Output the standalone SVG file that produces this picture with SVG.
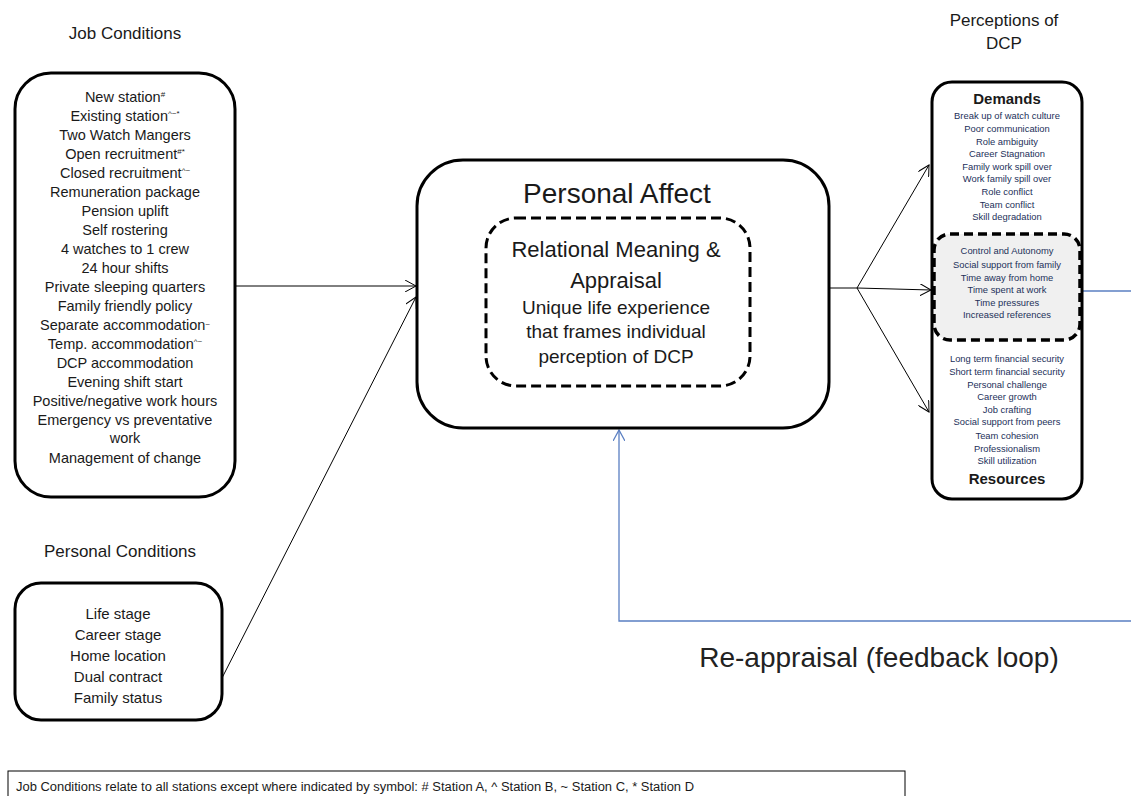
<svg xmlns="http://www.w3.org/2000/svg" width="1131" height="796" viewBox="0 0 1131 796">
<style>
text{font-family:"Liberation Sans",Arial,sans-serif;text-anchor:middle;fill:#1a1a1a}
.box{fill:#fff;stroke:#000;stroke-width:3}
.dash{fill:none;stroke:#000;stroke-width:3;stroke-dasharray:10,5}
.jc{font-size:14.5px}
.pc{font-size:15px}
.title{font-size:17px}
.sm{font-size:9.4px;fill:#23305a}
.hd{font-size:15px;font-weight:bold}
.sup{font-size:8px}
.con{fill:none;stroke:#000;stroke-width:1}
.blue{fill:none;stroke:#5a7fc2;stroke-width:1.3}
</style>
<defs>
<marker id="arr" viewBox="0 0 12 12" refX="11" refY="6" markerWidth="12" markerHeight="12" markerUnits="userSpaceOnUse" orient="auto">
<path d="M0,0 L11,6 L0,12" fill="none" stroke="#000" stroke-width="1"/>
</marker>
<marker id="arrb" viewBox="0 0 12 12" refX="11" refY="6" markerWidth="12" markerHeight="12" markerUnits="userSpaceOnUse" orient="auto">
<path d="M0,0 L11,6 L0,12" fill="none" stroke="#5a7fc2" stroke-width="1.3"/>
</marker>
</defs>
<rect width="1131" height="796" fill="#fff"/>

<g id="connectors">
<line class="con" x1="235" y1="286" x2="416" y2="286" marker-end="url(#arr)"/>
<line class="con" x1="222" y1="678" x2="416" y2="297" marker-end="url(#arr)"/>
<polyline class="con" points="829,288 857,288"/>
<line class="con" x1="857" y1="288" x2="929" y2="165" marker-end="url(#arr)"/>
<line class="con" x1="857" y1="288" x2="931" y2="290" marker-end="url(#arr)"/>
<line class="con" x1="857" y1="288" x2="929" y2="412" marker-end="url(#arr)"/>
<line class="blue" x1="1082" y1="291" x2="1131" y2="291"/>
<polyline class="blue" points="1131,621 619,621 619,430" marker-end="url(#arrb)"/>
</g>

<g id="job-conditions">
<text class="title" x="125" y="39">Job Conditions</text>
<rect class="box" x="15" y="73" width="220" height="424" rx="36"/>
<text class="jc" x="125" y="102">New station<tspan class="sup" dy="-5">#</tspan></text>
<text class="jc" x="125" y="121">Existing station<tspan class="sup" dy="-5">^~*</tspan></text>
<text class="jc" x="125" y="140">Two Watch Mangers</text>
<text class="jc" x="125" y="159">Open recruitment<tspan class="sup" dy="-5">#*</tspan></text>
<text class="jc" x="125" y="178">Closed recruitment<tspan class="sup" dy="-5">^~</tspan></text>
<text class="jc" x="125" y="197">Remuneration package</text>
<text class="jc" x="125" y="216">Pension uplift</text>
<text class="jc" x="125" y="235">Self rostering</text>
<text class="jc" x="125" y="254">4 watches to 1 crew</text>
<text class="jc" x="125" y="273">24 hour shifts</text>
<text class="jc" x="125" y="292">Private sleeping quarters</text>
<text class="jc" x="125" y="311">Family friendly policy</text>
<text class="jc" x="125" y="330">Separate accommodation<tspan class="sup" dy="-3">~</tspan></text>
<text class="jc" x="125" y="349">Temp. accommodation<tspan class="sup" dy="-5">^~</tspan></text>
<text class="jc" x="125" y="368">DCP accommodation</text>
<text class="jc" x="125" y="387">Evening shift start</text>
<text class="jc" x="125" y="406">Positive/negative work hours</text>
<text class="jc" x="125" y="425">Emergency vs preventative</text>
<text class="jc" x="125" y="443">work</text>
<text class="jc" x="125" y="463">Management of change</text>
</g>

<g id="personal-conditions">
<text class="title" x="120" y="557">Personal Conditions</text>
<rect class="box" x="15" y="583" width="207" height="137" rx="26"/>
<text class="pc" x="118" y="619">Life stage</text>
<text class="pc" x="118" y="640">Career stage</text>
<text class="pc" x="118" y="661">Home  location</text>
<text class="pc" x="118" y="682">Dual contract</text>
<text class="pc" x="118" y="703">Family status</text>
</g>

<g id="personal-affect">
<rect class="box" x="417" y="160" width="412" height="268" rx="46"/>
<text x="617" y="203" style="font-size:28px">Personal Affect</text>
<rect class="dash" x="486" y="218" width="264" height="168" rx="30"/>
<text x="616" y="257" style="font-size:22px">Relational Meaning &amp;</text>
<text x="616" y="288" style="font-size:22px">Appraisal</text>
<text x="616" y="314" style="font-size:19px">Unique life experience</text>
<text x="616" y="338" style="font-size:19px">that frames individual</text>
<text x="616" y="363" style="font-size:19px">perception of DCP</text>
</g>

<g id="perceptions">
<text class="title" x="1004" y="26">Perceptions of</text>
<text class="title" x="1004" y="49">DCP</text>
<rect class="box" x="932" y="82" width="150" height="417" rx="20"/>
<text class="hd" x="1007" y="104">Demands</text>
<text class="sm" x="1007" y="119">Break up of watch culture</text>
<text class="sm" x="1007" y="132">Poor communication</text>
<text class="sm" x="1007" y="145">Role ambiguity</text>
<text class="sm" x="1007" y="157">Career Stagnation</text>
<text class="sm" x="1007" y="170">Family work spill over</text>
<text class="sm" x="1007" y="182">Work family spill over</text>
<text class="sm" x="1007" y="195">Role conflict</text>
<text class="sm" x="1007" y="208">Team conflict</text>
<text class="sm" x="1007" y="220">Skill degradation</text>
<rect x="934" y="234" width="146" height="106" rx="16" fill="#f0f0f0" stroke="#000" stroke-width="3.5" stroke-dasharray="9,5"/>
<text class="sm" x="1007" y="254">Control and Autonomy</text>
<text class="sm" x="1007" y="268">Social support from family</text>
<text class="sm" x="1007" y="281">Time away from home</text>
<text class="sm" x="1007" y="293">Time spent at work</text>
<text class="sm" x="1007" y="306">Time pressures</text>
<text class="sm" x="1007" y="318">Increased references</text>
<text class="sm" x="1007" y="362">Long term financial security</text>
<text class="sm" x="1007" y="375">Short term financial security</text>
<text class="sm" x="1007" y="388">Personal challenge</text>
<text class="sm" x="1007" y="400">Career growth</text>
<text class="sm" x="1007" y="413">Job crafting</text>
<text class="sm" x="1007" y="425">Social support from peers</text>
<text class="sm" x="1007" y="439">Team cohesion</text>
<text class="sm" x="1007" y="452">Professionalism</text>
<text class="sm" x="1007" y="464">Skill utilization</text>
<text class="hd" x="1007" y="484">Resources</text>
</g>

<g id="reappraisal">
<text x="879" y="667" style="font-size:28px;fill:#222">Re-appraisal (feedback loop)</text>
</g>

<g id="footnote">
<rect x="8" y="771" width="897" height="40" fill="#fff" stroke="#000" stroke-width="1"/>
<text x="16" y="791" textLength="678" lengthAdjust="spacingAndGlyphs" style="font-size:12px;text-anchor:start">Job Conditions relate to all stations except where indicated by symbol: # Station A, ^ Station B, ~ Station C, * Station D</text>
</g>
</svg>
